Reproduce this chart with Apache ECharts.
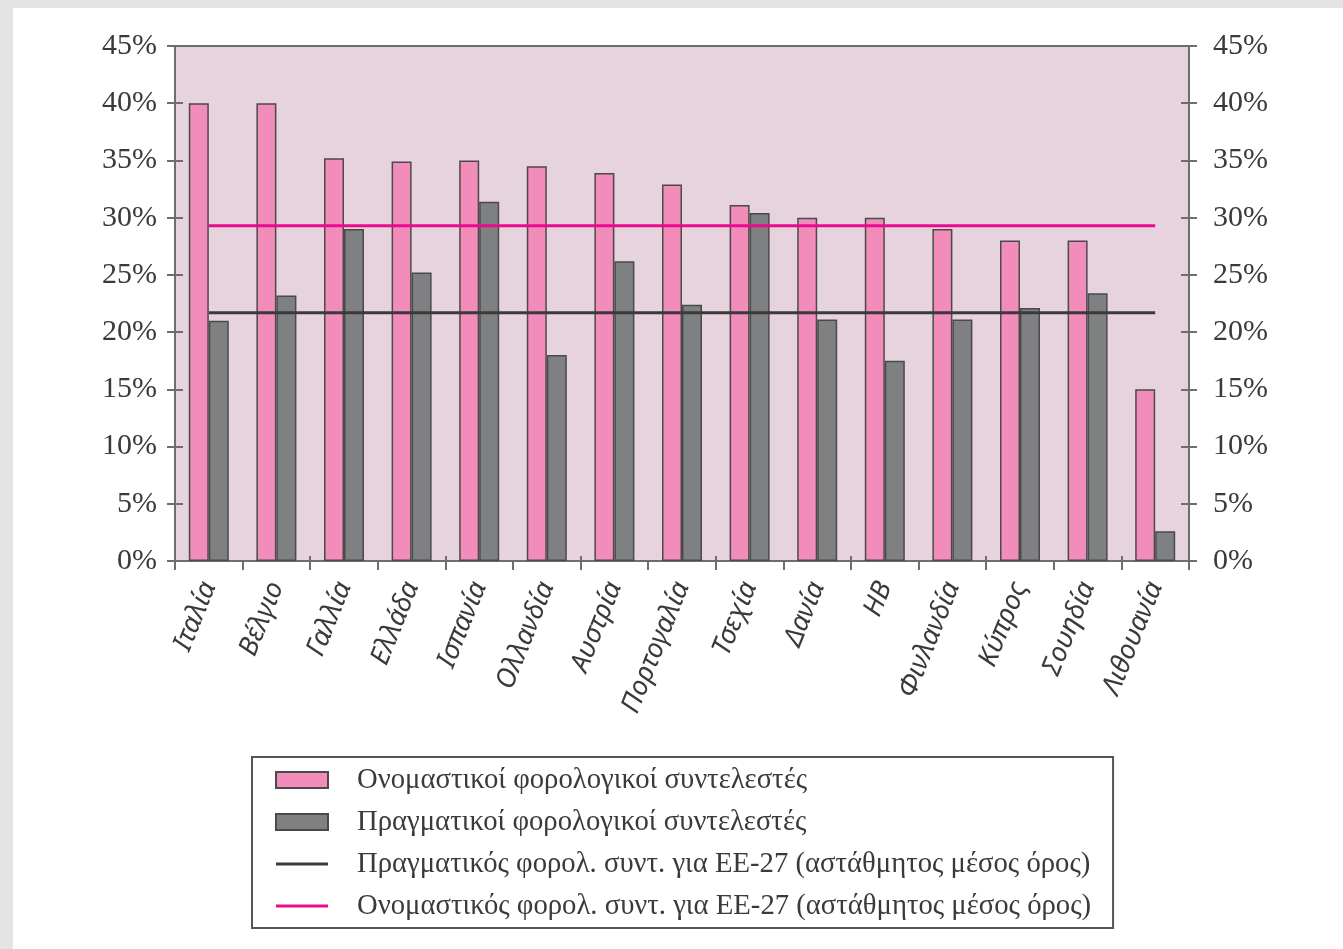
<!DOCTYPE html>
<html>
<head>
<meta charset="utf-8">
<script src="https://cdn.jsdelivr.net/npm/echarts@6/dist/echarts.min.js"></script>
<style>
  html, body { margin: 0; padding: 0; background: #ffffff; overflow: hidden; }
  #chart { position: absolute; left: 0; top: 0; width: 1343px; height: 949px; }
</style>
</head>
<body>
<div id="chart"></div>
<script>
// Χώρες (άξονας κατηγοριών)
const countries = ['Ιταλία', 'Βέλγιο', 'Γαλλία', 'Ελλάδα', 'Ισπανία', 'Ολλανδία', 'Αυστρία',
  'Πορτογαλία', 'Τσεχία', 'Δανία', 'ΗΒ', 'Φινλανδία', 'Κύπρος', 'Σουηδία', 'Λιθουανία'];

// Ονομαστικοί φορολογικοί συντελεστές (%)
const nominalRates = [40, 40, 35.2, 34.9, 35, 34.5, 33.9, 32.9, 31.1, 30, 30, 29, 28, 28, 15];

// Πραγματικοί φορολογικοί συντελεστές (%)
const effectiveRates = [21, 23.2, 29, 25.2, 31.4, 18, 26.2, 22.4, 30.4, 21.1, 17.5, 21.1, 22.1, 23.4, 2.6];

// Μέσοι όροι ΕΕ-27 (αστάθμητοι)
const euEffectiveAvg = 21.7;
const euNominalAvg = 29.3;

// Υποδιαιρέσεις άξονα τιμών
const yMin = 0, yMax = 45, yStep = 5;

const names = {
  nominal: 'Ονομαστικοί φορολογικοί συντελεστές',
  effective: 'Πραγματικοί φορολογικοί συντελεστές',
  effAvg: 'Πραγματικός φορολ. συντ. για ΕΕ-27 (αστάθμητος μέσος όρος)',
  nomAvg: 'Ονομαστικός φορολ. συντ. για ΕΕ-27 (αστάθμητος μέσος όρος)'
};

const axisGray = '#6e6e6e';
const frameGray = '#e4e4e7';
const labelFont = { fontFamily: 'Liberation Serif', fontSize: 30, color: '#3a3a3a' };
// Λεπτή οριζόντια γραμμή ως εικονίδιο υπομνήματος για τις γραμμές μέσου όρου
const lineIcon = 'path://M0,0H52V3H0Z';

function valueAxis(position, inside, showLabel, margin) {
  return {
    type: 'value', position: position, min: yMin, max: yMax, interval: yStep,
    axisLine: { show: true, lineStyle: { color: axisGray, width: 2 } },
    axisTick: { show: true, inside: inside, length: 8, lineStyle: { color: axisGray, width: 2 } },
    splitLine: { show: false },
    axisLabel: Object.assign({ show: showLabel, formatter: '{value}%', margin: margin }, labelFont)
  };
}

// Ένα ζεύγος σημείων (πρώτη και τελευταία χώρα) για κάθε οριζόντια γραμμή μέσου όρου
function avgLine(value) {
  return [[countries[0], value], [countries[countries.length - 1], value]];
}

const chart = echarts.init(document.getElementById('chart'), null, { renderer: 'canvas', width: 1343, height: 949 });

chart.setOption({
  backgroundColor: '#ffffff',
  animation: false,
  // Γκρι περιθώριο πάνω και αριστερά της σελίδας
  graphic: [
    { type: 'rect', left: 0, top: 0, shape: { width: 1343, height: 8 }, style: { fill: frameGray }, silent: true, z: -10 },
    { type: 'rect', left: 0, top: 0, shape: { width: 13, height: 949 }, style: { fill: frameGray }, silent: true, z: -10 }
  ],
  grid: {
    left: 175, right: 154, top: 46, bottom: 388,
    show: true, backgroundColor: '#e6d3de', borderColor: axisGray, borderWidth: 2
  },
  xAxis: [
    {
      type: 'category', data: countries, position: 'bottom',
      axisLine: { show: true, lineStyle: { color: axisGray, width: 2 } },
      axisTick: { show: true, length: 9, alignWithLabel: false, lineStyle: { color: axisGray, width: 2 } },
      axisLabel: {
        rotate: 68, margin: 22, interval: 0,
        fontFamily: 'Noto Sans', fontStyle: 'italic', fontSize: 27, color: '#3a3a3a'
      }
    },
    {
      type: 'category', data: countries, position: 'bottom',
      axisLine: { show: false },
      axisTick: { show: true, inside: true, length: 5, lineStyle: { color: axisGray, width: 2 } },
      axisLabel: { show: false }
    }
  ],
  yAxis: [
    valueAxis('left', false, true, 18),
    valueAxis('left', true, false, 8),
    valueAxis('right', false, true, 24),
    valueAxis('right', true, false, 8)
  ],
  legend: {
    orient: 'vertical', left: 252, top: 757,
    padding: [8, 22, 7, 23],
    itemWidth: 52, itemHeight: 16, itemGap: 12,
    borderColor: '#555555', borderWidth: 2, backgroundColor: '#ffffff',
    textStyle: { fontFamily: 'Liberation Serif', fontSize: 28.7, color: '#3a3a3a', lineHeight: 30, padding: [0, 0, 0, 24] },
    data: [
      { name: names.nominal, icon: 'rect' },
      { name: names.effective, icon: 'rect' },
      { name: names.effAvg, icon: lineIcon },
      { name: names.nomAvg, icon: lineIcon }
    ]
  },
  series: [
    {
      name: names.nominal, type: 'bar', data: nominalRates,
      barWidth: 20, barGap: '0%',
      itemStyle: { color: '#f28cbb', borderColor: '#4a4a4a', borderWidth: 1.5 }
    },
    {
      name: names.effective, type: 'bar', data: effectiveRates,
      barWidth: 20, barGap: '0%',
      itemStyle: { color: '#7e8082', borderColor: '#4a4a4a', borderWidth: 1.5 }
    },
    {
      name: names.effAvg, type: 'line', data: avgLine(euEffectiveAvg),
      symbol: 'none', showSymbol: false, z: 5,
      lineStyle: { color: '#3a3a3a', width: 3 },
      itemStyle: { color: '#3a3a3a' }
    },
    {
      name: names.nomAvg, type: 'line', data: avgLine(euNominalAvg),
      symbol: 'none', showSymbol: false, z: 5,
      lineStyle: { color: '#ec0a8c', width: 3 },
      itemStyle: { color: '#ec0a8c' }
    }
  ]
});
</script>
</body>
</html>
